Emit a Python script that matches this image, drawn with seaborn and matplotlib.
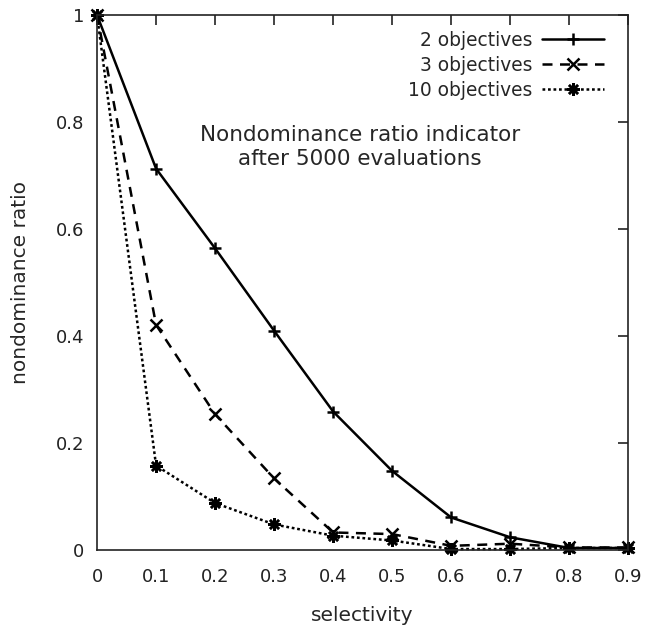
import matplotlib
matplotlib.use("Agg")
import matplotlib.pyplot as plt
import seaborn as sns
import pandas as pd

selectivity = [0.0, 0.1, 0.2, 0.3, 0.4, 0.5, 0.6, 0.7, 0.8, 0.9]
obj2 = [1.0, 0.713, 0.564, 0.410, 0.259, 0.148, 0.061, 0.024, 0.004, 0.004]
obj3 = [1.0, 0.421, 0.254, 0.134, 0.033, 0.030, 0.008, 0.012, 0.005, 0.005]
obj10 = [1.0, 0.158, 0.088, 0.048, 0.027, 0.018, 0.002, 0.002, 0.004, 0.004]
series = ["2 objectives", "3 objectives", "10 objectives"]
xticks = [0, 0.1, 0.2, 0.3, 0.4, 0.5, 0.6, 0.7, 0.8, 0.9]
xticklabels = ["0", "0.1", "0.2", "0.3", "0.4", "0.5", "0.6", "0.7", "0.8", "0.9"]
yticks = [0, 0.2, 0.4, 0.6, 0.8, 1.0]
yticklabels = ["0", "0.2", "0.4", "0.6", "0.8", "1"]

df = pd.DataFrame({
    "selectivity": selectivity * 3,
    "ratio": obj2 + obj3 + obj10,
    "series": [s for s in series for _ in selectivity],
})

sns.set_style("white")
plt.rcParams["font.family"] = ["DejaVu Sans"]
fig = plt.figure(figsize=(6.47, 6.28), dpi=100)
ax = fig.add_axes([0.150, 0.124, 0.821, 0.852])

sns.lineplot(data=df, x="selectivity", y="ratio", style="series", color="black",
             markers={"2 objectives": "+", "3 objectives": "x", "10 objectives": (8, 2, 0)},
             dashes={"2 objectives": "", "3 objectives": (4, 3), "10 objectives": (1.1, 1.1)},
             linewidth=1.8, markersize=9, markeredgewidth=1.8, markeredgecolor="black",
             clip_on=False, ax=ax)

ax.set_xlim(0, 0.9)
ax.set_ylim(0, 1)
ax.set_xticks(xticks)
ax.set_xticklabels(xticklabels)
ax.set_yticks(yticks)
ax.set_yticklabels(yticklabels)
ax.tick_params(direction="in", length=7, width=1.2, top=True, right=True,
               labelsize=13, colors="#222222", pad=13)
ax.tick_params(axis="y", pad=9)
for sp in ax.spines.values():
    sp.set_color("#222222")
    sp.set_linewidth(1.2)
ax.set_xlabel("selectivity", fontsize=14.5, labelpad=14)
ax.set_ylabel("nondominance ratio", fontsize=14.5, labelpad=19)

# label sits in the middle of the plot area
ax.text(0.446, 0.753, "Nondominance ratio indicator\nafter 5000 evaluations",
        ha="center", va="center", fontsize=15.5, linespacing=1.25)

leg = ax.legend(loc="upper right", bbox_to_anchor=(0.975, 0.992), frameon=False,
                markerfirst=False, fontsize=13.4, handlelength=3.3,
                labelspacing=0.33, handletextpad=0.55, borderaxespad=0.2)

fig.savefig("out.png", dpi=100)
